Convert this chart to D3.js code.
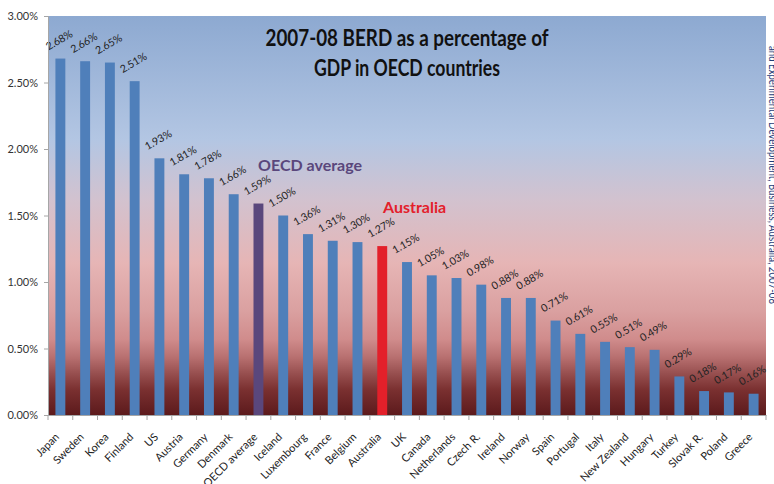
<html>
<script src='https://d3js.org/d3.v7.min.js'></script>
<style>
body {margin: 0; background: white;}
svg {display: block; overflow: hidden; font-family: Lato, 'Open Sans', sans-serif;}
</style>
<body onload='init()'>
<svg width=774 height=484></svg>
<script>
// BERD as % of GDP, 2007-08
var countries = ["Japan", "Sweden", "Korea", "Finland", "US", "Austria", "Germany", "Denmark",
  "OECD average", "Iceland", "Luxembourg", "France", "Belgium", "Australia", "UK", "Canada",
  "Netherlands", "Czech R.", "Ireland", "Norway", "Spain", "Portugal", "Italy", "New Zealand",
  "Hungary", "Turkey", "Slovak R.", "Poland", "Greece"];
var berd = [2.68, 2.66, 2.65, 2.51, 1.93, 1.81, 1.78, 1.66, 1.59, 1.50, 1.36, 1.31, 1.30, 1.27,
  1.15, 1.05, 1.03, 0.98, 0.88, 0.88, 0.71, 0.61, 0.55, 0.51, 0.49, 0.29, 0.18, 0.17, 0.16];
var yTicks = [0, 0.5, 1, 1.5, 2, 2.5, 3];
var titleLines = ["2007-08 BERD as a percentage of", "GDP in OECD countries"];
var sourceText = "and Experimental Development, Business, Australia, 2007-08";

function init() {
  var data = countries.map(function(c, i) { return {name: c, v: berd[i]}; });
  var svg = d3.select("svg");
  var left = 48, right = 766, top = 16, bottom = 415;

  var x = d3.scaleBand().domain(countries).range([left, right]).paddingInner(0.6).paddingOuter(0.3);
  var y = d3.scaleLinear().domain([0, 3]).range([bottom, top]);

  // background gradient
  var grad = svg.append("defs").append("linearGradient")
    .attr("id", "bg").attr("x1", 0).attr("y1", 0).attr("x2", 0).attr("y2", 1);
  [[0, "#8da9d1"], [0.31, "#b3c6e3"], [0.46, "#d2c2cf"], [0.62, "#e6b5b5"],
   [0.74, "#daa0a0"], [0.81, "#d08c8c"], [0.855, "#b87070"], [0.895, "#985050"],
   [0.937, "#7a3030"], [1, "#5c1a1c"]].forEach(function(s) {
    grad.append("stop").attr("offset", s[0]).attr("stop-color", s[1]);
  });
  svg.append("rect").attr("x", left).attr("y", top)
    .attr("width", right - left).attr("height", bottom - top)
    .attr("fill", "url(#bg)");

  // bars
  svg.selectAll(".bar").data(data).enter().append("rect")
    .attr("class", "bar")
    .attr("x", function(d) { return x(d.name); })
    .attr("y", function(d) { return y(d.v); })
    .attr("width", x.bandwidth())
    .attr("height", function(d) { return bottom - y(d.v); })
    .attr("fill", function(d) {
      if (d.name == "OECD average") return "#5a477c";
      if (d.name == "Australia") return "#e3202a";
      return "#4f7fba";
    });

  // value labels
  svg.selectAll(".val").data(data).enter().append("text")
    .attr("class", "val")
    .attr("transform", function(d) {
      var cx = x(d.name) + x.bandwidth() / 2;
      return "translate(" + (cx - 12) + "," + (y(d.v) - 8) + ") rotate(-30)";
    })
    .attr("font-size", 10.5).attr("fill", "#222")
    .text(function(d) { return d.v.toFixed(2) + "%"; });

  // y axis
  var yAxis = svg.append("g").attr("transform", "translate(" + left + ",0)")
    .call(d3.axisLeft(y).tickValues(yTicks).tickSize(4).tickPadding(6)
      .tickFormat(function(d) { return d.toFixed(2) + "%"; }));
  yAxis.select(".domain").attr("stroke", "#a6a6a6");
  yAxis.selectAll("line").attr("stroke", "#a6a6a6");
  yAxis.selectAll("text").attr("font-size", 11).attr("fill", "#333").attr("font-family", "Lato, sans-serif");

  // x axis
  var xAxis = svg.append("g").attr("transform", "translate(0," + bottom + ")")
    .call(d3.axisBottom(x).tickSize(0).tickSizeOuter(0));
  xAxis.select(".domain").attr("stroke", "#a6a6a6");
  xAxis.selectAll("text")
    .attr("font-size", 11).attr("fill", "#222").attr("font-family", "Lato, sans-serif")
    .style("text-anchor", "end")
    .attr("dx", "-0.2em").attr("dy", "0.9em")
    .attr("transform", "translate(-8,12) rotate(-45)");
  // tick marks between categories
  var step = x.step();
  svg.append("g").selectAll("line").data(d3.range(countries.length + 1)).enter().append("line")
    .attr("x1", function(i) { return left + i * step; })
    .attr("x2", function(i) { return left + i * step; })
    .attr("y1", bottom).attr("y2", bottom + 5)
    .attr("stroke", "#a6a6a6");

  // title
  var titleWidths = [283, 186];
  svg.append("g").selectAll("text").data(titleLines).enter().append("text")
    .attr("x", 407).attr("y", function(d, i) { return 46 + i * 30; })
    .attr("text-anchor", "middle").attr("font-size", 22.5).attr("font-weight", "bold")
    .attr("fill", "#111")
    .attr("textLength", function(d, i) { return titleWidths[i]; })
    .attr("lengthAdjust", "spacingAndGlyphs")
    .text(function(d) { return d; });

  // annotations
  svg.append("text").attr("x", 258).attr("y", 171)
    .attr("font-size", 16).attr("font-weight", "bold").attr("fill", "#5a477c")
    .text("OECD average");
  svg.append("text").attr("x", 383).attr("y", 213)
    .attr("font-size", 16).attr("font-weight", "bold").attr("fill", "#e3202a")
    .text("Australia");

  // clipped source note on the right
  svg.append("text").attr("transform", "translate(769,46) rotate(90)")
    .attr("font-size", 12).attr("fill", "#1f3c78")
    .attr("textLength", 258).attr("lengthAdjust", "spacingAndGlyphs")
    .text(sourceText);
}
</script>
</body>
</html>
